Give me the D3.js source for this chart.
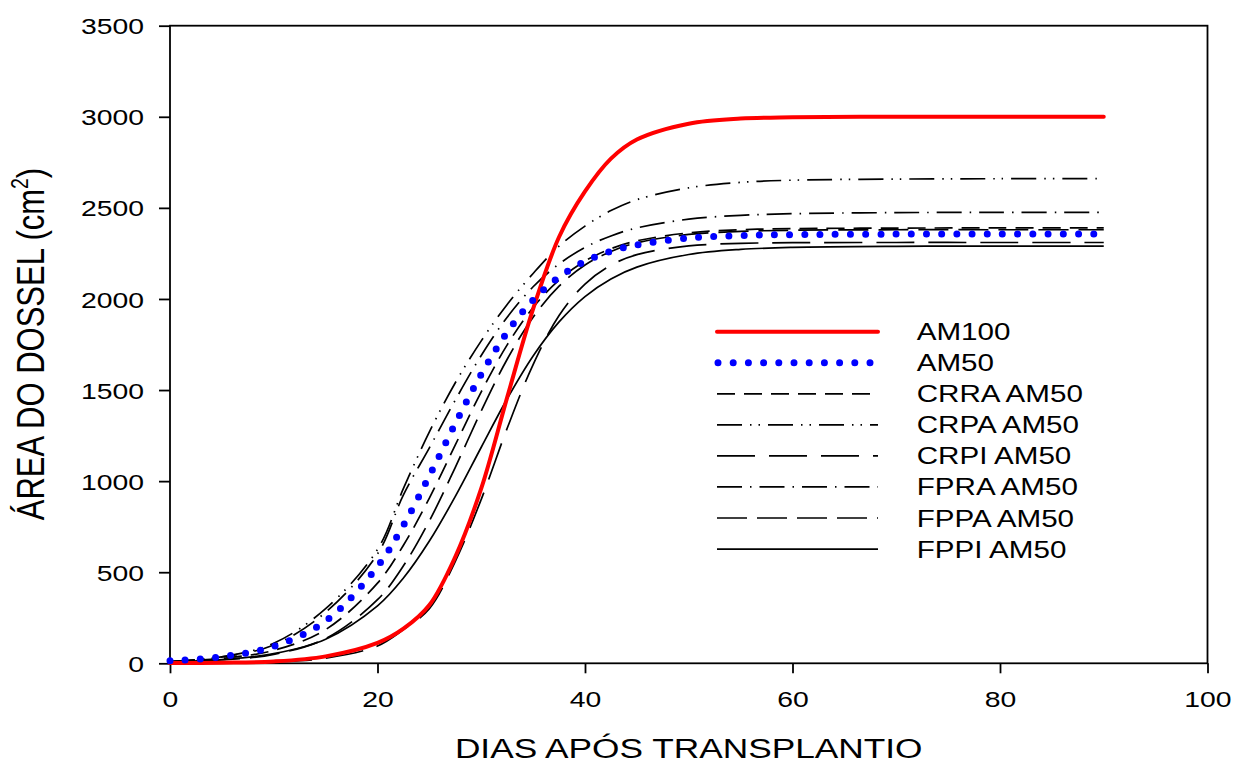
<!DOCTYPE html>
<html>
<head>
<meta charset="utf-8">
<script src="https://cdn.jsdelivr.net/npm/d3@7"></script>
<style>
  html, body { margin: 0; padding: 0; background: #fff; }
  svg { display: block; }
  text { font-family: Arial, "Liberation Sans", sans-serif; fill: #000; }
</style>
</head>
<body>
<svg id="chart" width="1234" height="764"></svg>
<script>
// values (days after transplant -> canopy area, cm2)
var days = [0, 5, 10, 15, 20, 22.5, 25, 27.5, 30, 32.5, 35, 37.5, 40, 42.5, 45, 50, 55, 60, 70, 80, 90];

var am100 = [1, 3, 10, 38, 112, 190, 320, 585, 960, 1460, 1945, 2340, 2590, 2770, 2875, 2962, 2990, 2997, 3000, 3000, 3000];
var am50 = [14, 36, 93, 232, 531, 758, 1029, 1316, 1587, 1817, 1994, 2120, 2206, 2262, 2297, 2334, 2348, 2353, 2356, 2356, 2356];
var crraAm50 = [10, 27, 71, 185, 440, 648, 907, 1199, 1490, 1748, 1953, 2104, 2208, 2276, 2319, 2363, 2380, 2386, 2389, 2390, 2390];
var crpaAm50 = [10, 35, 110, 300, 625, 960, 1270, 1540, 1770, 1970, 2140, 2290, 2400, 2485, 2545, 2610, 2640, 2652, 2658, 2660, 2660];
var crpiAm50 = [1, 2, 8, 28, 95, 185, 300, 560, 900, 1290, 1640, 1909, 2082, 2185, 2243, 2291, 2305, 2309, 2310, 2310, 2310];
var fpraAm50 = [10, 35, 100, 280, 600, 925, 1183, 1445, 1690, 1900, 2067, 2192, 2283, 2346, 2390, 2438, 2459, 2468, 2474, 2475, 2475];
var fppaAm50 = [6, 18, 49, 136, 349, 535, 782, 1076, 1385, 1669, 1900, 2070, 2186, 2261, 2308, 2354, 2371, 2377, 2380, 2380, 2380];
var fppiAm50 = [8, 21, 53, 132, 315, 468, 671, 916, 1186, 1452, 1687, 1874, 2013, 2110, 2175, 2244, 2272, 2283, 2289, 2290, 2290];

var seriesNames = ["AM100", "AM50", "CRRA AM50", "CRPA AM50", "CRPI AM50", "FPRA AM50", "FPPA AM50", "FPPI AM50"];
var seriesValues = [am100, am50, crraAm50, crpaAm50, crpiAm50, fpraAm50, fppaAm50, fppiAm50];

var xTicks = [0, 20, 40, 60, 80, 100];
var yTicks = [0, 500, 1000, 1500, 2000, 2500, 3000, 3500];

// line looks
var styles = {
  "AM100":     { color: "#ff0000", width: 4,   dash: null,               cap: "round" },
  "AM50":      { color: "#0000ff", width: 7,   dash: "0,15.2",           cap: "round" },
  "CRRA AM50": { color: "#000",    width: 1.7, dash: "18,9",             cap: "butt" },
  "CRPA AM50": { color: "#000",    width: 1.7, dash: "25,8,1.5,7,1.5,8", cap: "butt" },
  "CRPI AM50": { color: "#000",    width: 1.7, dash: "38,14",            cap: "butt" },
  "FPRA AM50": { color: "#000",    width: 1.7, dash: "25,8,1.5,8",       cap: "butt" },
  "FPPA AM50": { color: "#000",    width: 1.7, dash: "30,10",            cap: "butt" },
  "FPPI AM50": { color: "#000",    width: 1.7, dash: null,               cap: "butt" }
};

var SX = 1.26; // the original glyphs are drawn a little wide

var svg = d3.select("#chart");

var x = d3.scaleLinear().domain([0, 100]).range([170, 1207.5]);
var y = d3.scaleLinear().domain([0, 3500]).range([663.3, 25.7]);

// axes
var gx = svg.append("g")
  .attr("transform", "translate(0," + y(0) + ")")
  .call(d3.axisBottom(x).tickValues(xTicks).tickFormat(d3.format("d")).tickSize(10).tickSizeOuter(0));
gx.select(".domain").remove();
gx.selectAll(".tick line").attr("stroke", "#000").attr("stroke-width", 1.8);
gx.selectAll(".tick text")
  .attr("y", 44).attr("dy", 0)
  .attr("font-size", 22.5)
  .attr("transform", "scale(" + SX + ",1)");

var gy = svg.append("g")
  .attr("transform", "translate(" + x(0) + ",0)")
  .call(d3.axisLeft(y).tickValues(yTicks).tickFormat(d3.format("d")).tickSize(11).tickSizeOuter(0));
gy.select(".domain").remove();
gy.selectAll(".tick line").attr("stroke", "#000").attr("stroke-width", 1.8);
gy.selectAll(".tick text")
  .attr("x", -26 / SX)
  .attr("dy", "0.36em")
  .attr("font-size", 22.5)
  .attr("transform", "scale(" + SX + ",1)");

// frame
svg.append("rect")
  .attr("x", x(0)).attr("y", y(3500))
  .attr("width", x(100) - x(0)).attr("height", y(0) - y(3500))
  .attr("fill", "none").attr("stroke", "#000").attr("stroke-width", 1.8);

// curves
var line = d3.line()
  .x(function(d) { return x(d[0]); })
  .y(function(d) { return y(d[1]); })
  .curve(d3.curveCatmullRom.alpha(0.5));

var drawOrder = [2, 3, 4, 5, 6, 7, 0, 1];
drawOrder.forEach(function(i) {
  var name = seriesNames[i];
  var st = styles[name];
  var pts = days.map(function(dd, j) { return [dd, seriesValues[i][j]]; });
  svg.append("path")
    .attr("d", line(pts))
    .attr("fill", "none")
    .attr("stroke", st.color)
    .attr("stroke-width", st.width)
    .attr("stroke-linecap", st.cap)
    .attr("stroke-linejoin", "round")
    .attr("stroke-dasharray", st.dash);
});

// legend
var legX1 = 717, legX2 = 878, legText = 916.7, legY0 = 331.7, legStep = 31.05;
seriesNames.forEach(function(name, i) {
  var st = styles[name];
  var ry = legY0 + i * legStep;
  svg.append("line")
    .attr("x1", name === "AM50" ? legX1 + 1 : legX1).attr("x2", legX2)
    .attr("y1", ry).attr("y2", ry)
    .attr("stroke", st.color)
    .attr("stroke-width", st.width)
    .attr("stroke-linecap", st.cap)
    .attr("stroke-dasharray", st.dash);
  svg.append("g")
    .attr("transform", "translate(" + legText + "," + (ry + 8.5) + ") scale(" + SX + ",1)")
    .append("text")
    .attr("font-size", 23.5)
    .text(name);
});

// axis titles
svg.append("g")
  .attr("transform", "translate(688.7,758) scale(" + SX + ",1)")
  .append("text")
  .attr("text-anchor", "middle")
  .attr("font-size", 28)
  .text("DIAS APÓS TRANSPLANTIO");

var yt = svg.append("g")
  .attr("transform", "translate(44,344) scale(" + SX + ",1) rotate(-90)")
  .append("text")
  .attr("text-anchor", "middle")
  .attr("font-size", 31);
yt.append("tspan").text("ÁREA DO DOSSEL (cm");
yt.append("tspan").attr("font-size", 19.5).attr("dy", -12.5).text("2");
yt.append("tspan").attr("dy", 12.5).text(")");
</script>
</body>
</html>
